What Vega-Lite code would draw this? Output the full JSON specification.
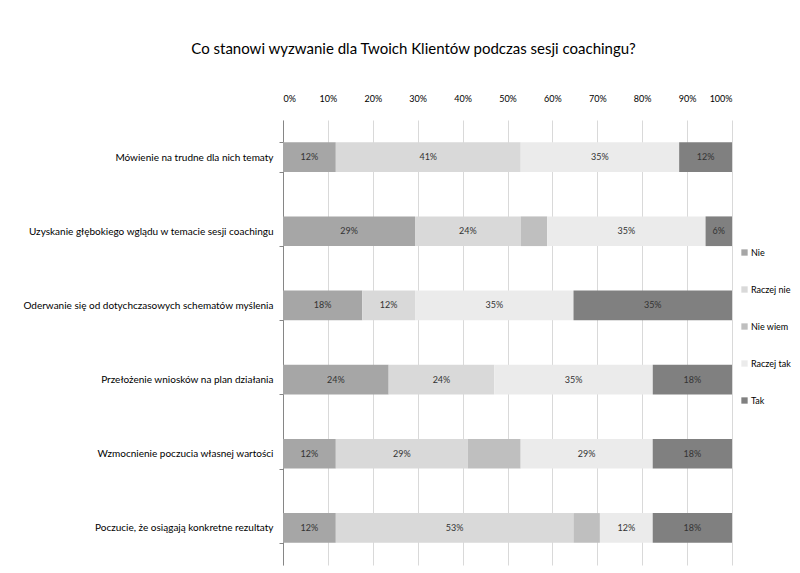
{
  "$schema": "https://vega.github.io/schema/vega-lite/v6.json",
  "autosize": "none",
  "width": 449,
  "height": 445,
  "padding": {"left": 283, "top": 120, "right": 68, "bottom": 8},
  "background": "white",
  "config": {
    "font": "Lato, sans-serif",
    "view": {"stroke": null}
  },
  "title": {
    "text": "Co stanowi wyzwanie dla Twoich Klientów podczas sesji coachingu?",
    "fontSize": 15,
    "fontWeight": "normal",
    "color": "#000000",
    "anchor": "middle",
    "dx": -94,
    "offset": 37
  },
  "data": {
    "values": [
      {"q": "Mówienie na trudne dla nich tematy", "s": "Nie", "k": 1, "v": 0.1176},
      {"q": "Mówienie na trudne dla nich tematy", "s": "Raczej nie", "k": 2, "v": 0.4118},
      {"q": "Mówienie na trudne dla nich tematy", "s": "Raczej tak", "k": 4, "v": 0.3529},
      {"q": "Mówienie na trudne dla nich tematy", "s": "Tak", "k": 5, "v": 0.1177},
      {"q": "Uzyskanie głębokiego wglądu w temacie sesji coachingu", "s": "Nie", "k": 1, "v": 0.2941},
      {"q": "Uzyskanie głębokiego wglądu w temacie sesji coachingu", "s": "Raczej nie", "k": 2, "v": 0.2353},
      {"q": "Uzyskanie głębokiego wglądu w temacie sesji coachingu", "s": "Nie wiem", "k": 3, "v": 0.0588},
      {"q": "Uzyskanie głębokiego wglądu w temacie sesji coachingu", "s": "Raczej tak", "k": 4, "v": 0.3529},
      {"q": "Uzyskanie głębokiego wglądu w temacie sesji coachingu", "s": "Tak", "k": 5, "v": 0.0589},
      {"q": "Oderwanie się od dotychczasowych schematów myślenia", "s": "Nie", "k": 1, "v": 0.1765},
      {"q": "Oderwanie się od dotychczasowych schematów myślenia", "s": "Raczej nie", "k": 2, "v": 0.1176},
      {"q": "Oderwanie się od dotychczasowych schematów myślenia", "s": "Raczej tak", "k": 4, "v": 0.3529},
      {"q": "Oderwanie się od dotychczasowych schematów myślenia", "s": "Tak", "k": 5, "v": 0.353},
      {"q": "Przełożenie wniosków na plan działania", "s": "Nie", "k": 1, "v": 0.2353},
      {"q": "Przełożenie wniosków na plan działania", "s": "Raczej nie", "k": 2, "v": 0.2353},
      {"q": "Przełożenie wniosków na plan działania", "s": "Raczej tak", "k": 4, "v": 0.3529},
      {"q": "Przełożenie wniosków na plan działania", "s": "Tak", "k": 5, "v": 0.1765},
      {"q": "Wzmocnienie poczucia własnej wartości", "s": "Nie", "k": 1, "v": 0.1176},
      {"q": "Wzmocnienie poczucia własnej wartości", "s": "Raczej nie", "k": 2, "v": 0.2941},
      {"q": "Wzmocnienie poczucia własnej wartości", "s": "Nie wiem", "k": 3, "v": 0.1176},
      {"q": "Wzmocnienie poczucia własnej wartości", "s": "Raczej tak", "k": 4, "v": 0.2941},
      {"q": "Wzmocnienie poczucia własnej wartości", "s": "Tak", "k": 5, "v": 0.1766},
      {"q": "Poczucie, że osiągają konkretne rezultaty", "s": "Nie", "k": 1, "v": 0.1176},
      {"q": "Poczucie, że osiągają konkretne rezultaty", "s": "Raczej nie", "k": 2, "v": 0.5294},
      {"q": "Poczucie, że osiągają konkretne rezultaty", "s": "Nie wiem", "k": 3, "v": 0.0588},
      {"q": "Poczucie, że osiągają konkretne rezultaty", "s": "Raczej tak", "k": 4, "v": 0.1176},
      {"q": "Poczucie, że osiągają konkretne rezultaty", "s": "Tak", "k": 5, "v": 0.1766}
    ]
  },
  "transform": [
    {"stack": "v", "groupby": ["q"], "sort": [{"field": "k", "order": "ascending"}], "as": ["v0", "v1"]}
  ],
  "encoding": {
    "y": {
      "field": "q",
      "type": "nominal",
      "sort": null,
      "scale": {"paddingInner": 0.6, "paddingOuter": 0.3},
      "axis": {
        "title": null,
        "labelFontSize": 10,
        "labelColor": "#000000",
        "labelPadding": 6,
        "labelLimit": 300,
        "tickBand": "extent",
        "tickSize": 4,
        "tickColor": "#868686",
        "domainColor": "#868686"
      }
    }
  },
  "layer": [
    {
      "mark": {"type": "bar"},
      "encoding": {
        "x": {
          "field": "v0",
          "type": "quantitative",
          "scale": {"domain": [0, 1], "nice": false},
          "axis": {
            "orient": "top",
            "title": null,
            "format": ".0%",
            "values": [0, 0.1, 0.2, 0.3, 0.4, 0.5, 0.6, 0.7, 0.8, 0.9, 1],
            "grid": true,
            "gridColor": "#d9d9d9",
            "domain": false,
            "ticks": false,
            "labelFontSize": 9,
            "labelColor": "#000000",
            "labelPadding": 17
          }
        },
        "x2": {"field": "v1"},
        "color": {
          "field": "s",
          "type": "nominal",
          "scale": {
            "domain": ["Nie", "Raczej nie", "Nie wiem", "Raczej tak", "Tak"],
            "range": ["#a6a6a6", "#d9d9d9", "#bfbfbf", "#ebebeb", "#808080"]
          },
          "legend": {
            "title": null,
            "orient": "none",
            "legendX": 457,
            "legendY": 128,
            "symbolType": "square",
            "symbolSize": 40,
            "symbolStrokeWidth": 0,
            "labelFontSize": 9,
            "labelColor": "#000000",
            "labelOffset": 2,
            "rowPadding": 27,
            "labelLimit": 200
          }
        }
      }
    },
    {
      "transform": [
        {"filter": "datum.s != 'Nie wiem'"},
        {"calculate": "(datum.v0 + datum.v1) / 2", "as": "mid"}
      ],
      "mark": {"type": "text", "fontSize": 9, "color": "#333333"},
      "encoding": {
        "x": {"field": "mid", "type": "quantitative"},
        "text": {"field": "v", "type": "quantitative", "format": ".0%"}
      }
    }
  ]
}
